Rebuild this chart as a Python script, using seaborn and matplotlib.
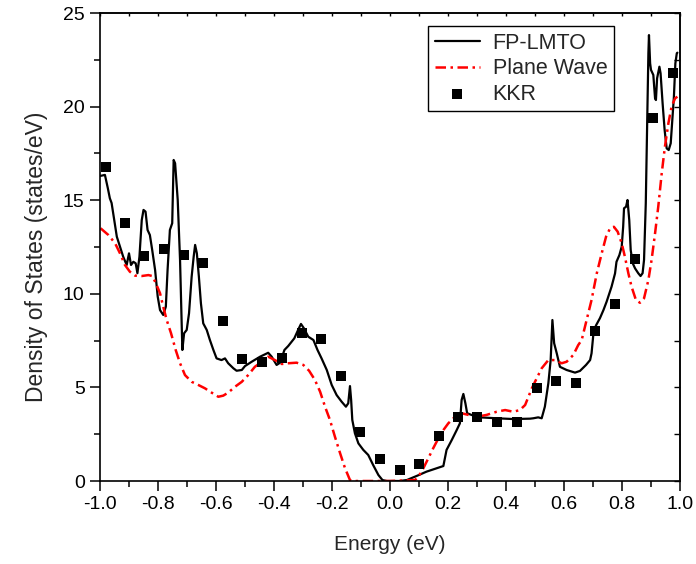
import numpy as np
import pandas as pd
import matplotlib
matplotlib.use("Agg")
import matplotlib.pyplot as plt
from matplotlib.ticker import MultipleLocator, FormatStrFormatter
import seaborn as sns

# FP-LMTO density of states
lmto_e = [-0.998, -0.983, -0.973, -0.966, -0.960, -0.951, -0.942, -0.931, -0.920, -0.908,
          -0.900, -0.893, -0.885, -0.877, -0.871, -0.864, -0.856, -0.850, -0.843, -0.836,
          -0.828, -0.820, -0.810, -0.801, -0.793, -0.782, -0.773, -0.767, -0.759, -0.751,
          -0.746, -0.741, -0.732, -0.724, -0.716, -0.710, -0.701, -0.693, -0.684, -0.677,
          -0.672, -0.666, -0.659, -0.652, -0.644, -0.632, -0.621, -0.609, -0.598, -0.581,
          -0.569, -0.558, -0.540, -0.529, -0.511, -0.500, -0.477, -0.448, -0.420, -0.408,
          -0.391, -0.379, -0.364, -0.351, -0.330, -0.316, -0.307, -0.297, -0.282, -0.264,
          -0.250, -0.236, -0.218, -0.201, -0.184, -0.167, -0.152, -0.144, -0.138, -0.134,
          -0.130, -0.121, -0.109, -0.092, -0.075, -0.058, -0.040, -0.026, -0.011, 0.034,
          0.058, 0.092, 0.126, 0.161, 0.184, 0.195, 0.213, 0.230, 0.241, 0.247,
          0.253, 0.260, 0.266, 0.281, 0.310, 0.368, 0.425, 0.483, 0.494, 0.511,
          0.523, 0.534, 0.546, 0.554, 0.560, 0.566, 0.575, 0.586, 0.609, 0.638,
          0.655, 0.676, 0.690, 0.695, 0.701, 0.710, 0.724, 0.736, 0.747, 0.764,
          0.776, 0.781, 0.791, 0.799, 0.804, 0.807, 0.814, 0.819, 0.825, 0.830,
          0.837, 0.845, 0.856, 0.864, 0.871, 0.876, 0.882, 0.887, 0.891, 0.893,
          0.897, 0.900, 0.908, 0.914, 0.917, 0.921, 0.929, 0.933, 0.940, 0.947,
          0.954, 0.961, 0.968, 0.972, 0.979, 0.984, 0.989, 0.991]
lmto_dos = [16.30, 16.35, 15.64, 15.10, 14.85, 13.94, 13.05, 12.52, 11.98, 11.54,
            12.16, 11.54, 11.71, 11.63, 11.10, 11.98, 13.94, 14.48, 14.39, 13.41,
            13.14, 12.34, 11.27, 9.85, 9.13, 8.87, 9.31, 11.27, 13.41, 13.77,
            17.15, 16.97, 15.01, 11.81, 7.00, 7.89, 8.07, 8.96, 10.91, 11.98,
            12.61, 12.16, 10.91, 9.49, 8.42, 8.07, 7.53, 7.00, 6.55, 6.46,
            6.55, 6.29, 6.02, 5.89, 5.93, 6.14, 6.37, 6.64, 6.85, 6.64,
            6.20, 6.32, 7.00, 7.21, 7.62, 8.10, 8.39, 8.16, 7.71, 7.53,
            7.00, 6.55, 5.93, 5.13, 4.59, 4.24, 3.97, 4.15, 5.07, 4.33,
            3.26, 2.55, 2.01, 1.66, 1.39, 0.85, 0.32, 0.05, 0.00, 0.00,
            0.05, 0.27, 0.50, 0.68, 0.80, 1.66, 2.19, 2.72, 3.08, 4.33,
            4.65, 4.15, 3.62, 3.53, 3.40, 3.35, 3.31, 3.33, 3.35, 3.40,
            3.35, 3.97, 5.22, 6.46, 8.60, 7.36, 6.82, 6.10, 5.93, 5.79,
            5.88, 6.20, 6.46, 6.82, 7.80, 8.30, 8.70, 9.13, 9.58, 10.38,
            11.09, 11.71, 12.07, 12.52, 13.58, 14.57, 14.65, 15.01, 13.94, 12.34,
            11.63, 11.36, 11.10, 10.95, 11.10, 11.81, 14.83, 19.28, 22.85, 23.82,
            22.31, 21.96, 21.69, 20.44, 20.35, 21.51, 22.13, 21.78, 20.18, 18.75,
            17.77, 17.68, 18.04, 18.93, 20.53, 22.31, 22.85, 22.88]

# Plane-wave density of states
pw_e = [-0.998, -0.971, -0.948, -0.931, -0.914, -0.897, -0.879, -0.856, -0.833, -0.820,
        -0.808, -0.793, -0.782, -0.770, -0.755, -0.739, -0.724, -0.707, -0.684, -0.661,
        -0.638, -0.615, -0.592, -0.575, -0.558, -0.534, -0.511, -0.489, -0.466, -0.442,
        -0.420, -0.397, -0.373, -0.351, -0.322, -0.299, -0.279, -0.259, -0.241, -0.224,
        -0.207, -0.190, -0.172, -0.155, -0.138, -0.127, 0.000, 0.086, 0.098, 0.115,
        0.132, 0.149, 0.167, 0.184, 0.201, 0.224, 0.247, 0.270, 0.299, 0.333,
        0.368, 0.397, 0.425, 0.448, 0.466, 0.489, 0.506, 0.523, 0.546, 0.569,
        0.592, 0.609, 0.632, 0.649, 0.661, 0.678, 0.695, 0.713, 0.730, 0.745,
        0.759, 0.772, 0.785, 0.799, 0.810, 0.822, 0.833, 0.848, 0.862, 0.876,
        0.891, 0.902, 0.914, 0.925, 0.937, 0.948, 0.960, 0.971, 0.983, 0.991]
pw_dos = [13.50, 13.14, 12.70, 12.16, 11.54, 11.18, 10.97, 10.95, 11.00, 10.95,
          10.59, 10.03, 9.31, 8.60, 7.89, 7.00, 6.29, 5.66, 5.30, 5.13,
          4.95, 4.72, 4.50, 4.56, 4.72, 5.04, 5.30, 5.66, 6.10, 6.37,
          6.64, 6.46, 6.25, 6.29, 6.32, 6.20, 5.89, 5.40, 4.77, 3.97,
          3.26, 2.37, 1.48, 0.68, 0.05, 0.00, 0.00, 0.05, 0.23, 0.68,
          1.21, 1.75, 2.28, 2.72, 3.08, 3.43, 3.62, 3.53, 3.43, 3.53,
          3.70, 3.79, 3.70, 3.79, 4.06, 4.95, 5.49, 6.02, 6.46, 6.46,
          6.29, 6.37, 6.73, 7.26, 7.53, 8.60, 9.67, 11.09, 12.16, 13.05,
          13.50, 13.58, 13.32, 12.70, 11.98, 11.09, 10.38, 9.67, 9.52, 9.76,
          10.74, 11.81, 13.23, 14.65, 16.44, 17.86, 19.11, 20.00, 20.44, 20.53]

# KKR density of states
kkr_e = [-0.979, -0.914, -0.847, -0.780, -0.711, -0.645, -0.576, -0.509, -0.442, -0.373,
         -0.305, -0.238, -0.170, -0.104, -0.035, 0.034, 0.100, 0.168, 0.234, 0.301,
         0.369, 0.437, 0.506, 0.572, 0.640, 0.707, 0.776, 0.845, 0.908, 0.977]
kkr_dos = [16.79, 13.78, 12.04, 12.41, 12.09, 11.66, 8.55, 6.50, 6.34, 6.55,
           7.89, 7.60, 5.63, 2.63, 1.16, 0.59, 0.89, 2.40, 3.43, 3.42,
           3.14, 3.15, 4.95, 5.36, 5.25, 8.03, 9.43, 11.84, 19.41, 21.81]

series_labels = ["FP-LMTO", "Plane Wave", "KKR"]
x_label = "Energy (eV)"
y_label = "Density of States (states/eV)"

sns.set_theme(style="white")
plt.rcParams["font.family"] = ["Liberation Sans", "DejaVu Sans"]
plt.rcParams["axes.unicode_minus"] = False

lmto = pd.DataFrame({"E": lmto_e, "DOS": lmto_dos})
pw = pd.DataFrame({"E": pw_e, "DOS": pw_dos})
kkr = pd.DataFrame({"E": kkr_e, "DOS": kkr_dos})

fig = plt.figure(figsize=(6.96, 5.64), dpi=100)
ax = fig.add_axes([100 / 696, 83 / 564, 580 / 696, 468 / 564])

sns.lineplot(data=lmto, x="E", y="DOS", ax=ax, color="black", lw=1.6,
             sort=False, estimator=None, label=series_labels[0])
sns.lineplot(data=pw, x="E", y="DOS", ax=ax, color="#ff0000", lw=1.8,
             sort=False, estimator=None, label=series_labels[1],
             dashes=False)
ax.lines[-1].set_dashes((4.2, 1.8, 1.0, 1.8))
sns.scatterplot(data=kkr, x="E", y="DOS", ax=ax, color="black", marker="s",
                s=60, linewidth=0, label=series_labels[2], zorder=3)

ax.set_xlim(-1.0, 1.0)
ax.set_ylim(0, 25)
ax.set_xlabel(x_label, fontsize=15, labelpad=16)
ax.set_ylabel(y_label, fontsize=16.5, labelpad=5)
ax.yaxis.set_label_coords(-0.09, 0.48)

ax.xaxis.set_major_locator(MultipleLocator(0.2))
ax.xaxis.set_minor_locator(MultipleLocator(0.1))
ax.xaxis.set_major_formatter(FormatStrFormatter("%.1f"))
ax.yaxis.set_major_locator(MultipleLocator(5))
ax.yaxis.set_minor_locator(MultipleLocator(2.5))
ax.yaxis.set_major_formatter(FormatStrFormatter("%d"))

ax.tick_params(which="both", direction="out", color="black", width=1.1,
               labelsize=14, labelcolor="black", bottom=True, left=True,
               top=False, right=False)
ax.tick_params(which="major", length=7, pad=4)
ax.tick_params(which="minor", length=4)

for sp in ax.spines.values():
    sp.set_color("black")
    sp.set_linewidth(1.2)

# inward ticks on the top and right frame edges
top = ax.secondary_xaxis("top")
top.xaxis.set_major_locator(MultipleLocator(0.1))
top.tick_params(direction="in", length=2, width=1.0, color="black", labeltop=False)
top.spines["top"].set_linewidth(1.2)
right = ax.secondary_yaxis("right")
right.yaxis.set_major_locator(MultipleLocator(2.5))
right.tick_params(direction="in", length=4, width=1.0, color="black", labelright=False)
right.spines["right"].set_linewidth(1.2)

leg = ax.legend(loc="upper right", bbox_to_anchor=(0.886, 0.972), fontsize=15.5,
                frameon=True, fancybox=False, edgecolor="black", framealpha=1,
                handlelength=2.1, handletextpad=0.6, labelspacing=0.22,
                borderpad=0.3, borderaxespad=0)
leg.get_frame().set_linewidth(1.0)

fig.savefig("out.png", dpi=100)
